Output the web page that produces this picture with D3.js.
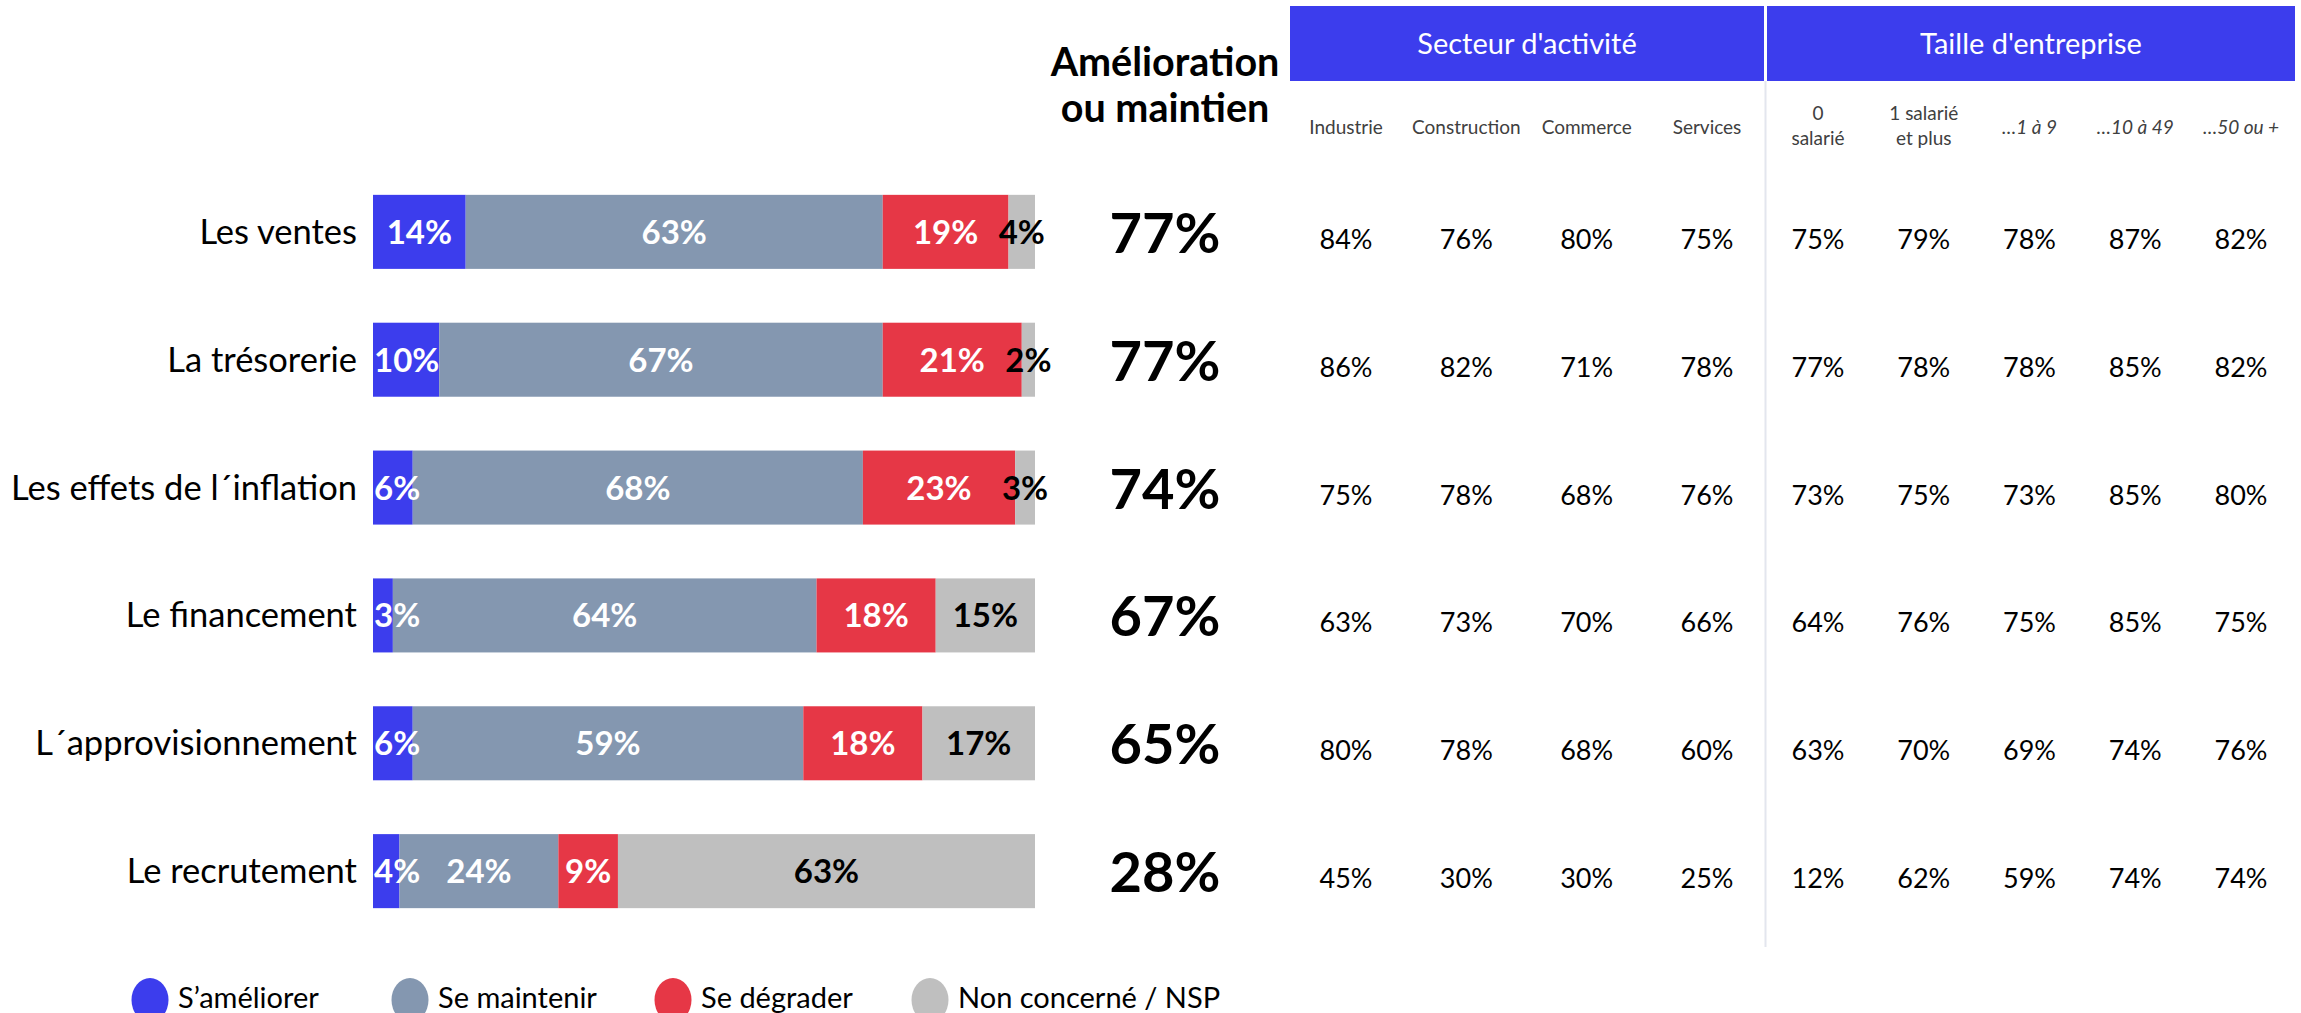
<!DOCTYPE html>
<html>
<head>
<meta charset="utf-8">
<script src="https://cdn.jsdelivr.net/npm/d3@7"></script>
<style>
  html, body { margin: 0; padding: 0; background: #ffffff; }
  svg { display: block; font-family: Lato, "Open Sans", sans-serif; }
</style>
</head>
<body>
<svg id="chart" width="2301" height="1013"></svg>
<script>
// ---- Data ----
const categories = ["Les ventes", "La trésorerie", "Les effets de l´inflation", "Le financement", "L´approvisionnement", "Le recrutement"];
const seriesNames = ["S’améliorer", "Se maintenir", "Se dégrader", "Non concerné / NSP"];
const ameliorer = [14, 10, 6, 3, 6, 4];
const maintenir = [63, 67, 68, 64, 59, 24];
const degrader  = [19, 21, 23, 18, 18, 9];
const nsp       = [4, 2, 3, 15, 17, 63];
const amelioOuMaintien = [77, 77, 74, 67, 65, 28];

const secteurLabels = ["Industrie", "Construction", "Commerce", "Services"];
const industrie    = [84, 86, 75, 63, 80, 45];
const construction = [76, 82, 78, 73, 78, 30];
const commerce     = [80, 71, 68, 70, 68, 30];
const services     = [75, 78, 76, 66, 60, 25];

const tailleLabels = [["0", "salarié"], ["1 salarié", "et plus"], ["…1 à 9"], ["…10 à 49"], ["…50 ou +"]];
const tailleItalic = [false, false, true, true, true];
const salarie0     = [75, 77, 73, 64, 63, 12];
const salarie1plus = [79, 78, 75, 76, 70, 62];
const de1a9        = [78, 78, 73, 75, 69, 59];
const de10a49      = [87, 85, 85, 85, 74, 74];
const de50plus     = [82, 82, 80, 75, 76, 74];

const groupTitles = ["Secteur d'activité", "Taille d'entreprise"];
const totalTitle = ["Amélioration", "ou maintien"];

// ---- Styles ----
const colors = ["#3c3ded", "#8497b0", "#e63746", "#bfbfbf"];
const labelColors = ["#ffffff", "#ffffff", "#ffffff", "#000000"];
const headerBlue = "#3c3ded";

const svg = d3.select("#chart");

const series = [ameliorer, maintenir, degrader, nsp];
const rows = categories.map((c, i) => {
  let acc = 0;
  const segs = series.map((s, k) => {
    const seg = { key: k, v: s[i], x0: acc, x1: acc + s[i] };
    acc += s[i];
    return seg;
  });
  return { cat: c, segs };
});

// Scales
const x = d3.scaleLinear().domain([0, 100]).range([373, 1035]);
const y = d3.scaleBand().domain(categories).range([168, 935]).paddingInner(0.421).paddingOuter(0.21);

// Bars
const rowG = svg.append("g").selectAll("g").data(rows).join("g")
  .attr("transform", d => `translate(0,${y(d.cat)})`);

rowG.selectAll("rect").data(d => d.segs).join("rect")
  .attr("x", d => x(d.x0))
  .attr("width", d => x(d.x1) - x(d.x0))
  .attr("y", 0)
  .attr("height", y.bandwidth())
  .attr("fill", d => colors[d.key]);

// Bar labels
rowG.selectAll("text.seg").data(d => d.segs).join("text")
  .attr("class", "seg")
  .attr("font-size", 33)
  .attr("font-weight", 700)
  .attr("fill", d => labelColors[d.key])
  .attr("text-anchor", "middle")
  .attr("y", y.bandwidth() / 2 + 12)
  .text(d => d.v + "%")
  .each(function (d) {
    const w = this.getComputedTextLength();
    let cx = (x(d.x0) + x(d.x1)) / 2;
    const minX = x(0) + w / 2 + 1;
    if (cx < minX) cx = minX;
    d3.select(this).attr("x", cx);
  });

// Category labels
svg.append("g").selectAll("text").data(categories).join("text")
  .attr("x", 357)
  .attr("y", d => y(d) + y.bandwidth() / 2 + 12)
  .attr("text-anchor", "end")
  .attr("font-size", 34.5)
  .attr("fill", "#000")
  .text(d => d);

// Total column
const totalX = 1165;
svg.append("g").selectAll("text").data(totalTitle).join("text")
  .attr("x", totalX)
  .attr("y", (d, i) => 76 + i * 46)
  .attr("text-anchor", "middle")
  .attr("font-size", 39.5)
  .attr("font-weight", 700)
  .attr("fill", "#000")
  .text(d => d);

svg.append("g").selectAll("text").data(amelioOuMaintien).join("text")
  .attr("x", totalX)
  .attr("y", (d, i) => y(categories[i]) + y.bandwidth() / 2 + 21)
  .attr("text-anchor", "middle")
  .attr("font-size", 56)
  .attr("font-weight", 700)
  .attr("fill", "#000")
  .text(d => d + "%");

// Group header boxes
const groups = [
  { title: groupTitles[0], x0: 1290, x1: 1764 },
  { title: groupTitles[1], x0: 1767, x1: 2295 }
];
svg.append("g").selectAll("rect").data(groups).join("rect")
  .attr("x", d => d.x0).attr("width", d => d.x1 - d.x0)
  .attr("y", 6).attr("height", 75)
  .attr("fill", headerBlue);
svg.append("g").selectAll("text").data(groups).join("text")
  .attr("x", d => (d.x0 + d.x1) / 2)
  .attr("y", 54)
  .attr("text-anchor", "middle")
  .attr("font-size", 29)
  .attr("fill", "#fff")
  .text(d => d.title);

// Separator line
svg.append("line")
  .attr("x1", 1765.5).attr("x2", 1765.5)
  .attr("y1", 81).attr("y2", 947)
  .attr("stroke", "#e3e6ee").attr("stroke-width", 2);

// Sub-columns
const xSect = d3.scalePoint().domain(secteurLabels).range([1346, 1707]);
const tailleKeys = tailleLabels.map(l => l.join(" "));
const xTaille = d3.scalePoint().domain(tailleKeys).range([1818, 2241]);

// Column headers
svg.append("g").selectAll("text").data(secteurLabels).join("text")
  .attr("x", d => xSect(d))
  .attr("y", 134)
  .attr("text-anchor", "middle")
  .attr("font-size", 19)
  .attr("fill", "#404040")
  .text(d => d);

const th = svg.append("g").selectAll("text").data(tailleLabels).join("text")
  .attr("text-anchor", "middle")
  .attr("font-size", 19)
  .attr("fill", "#404040")
  .attr("font-style", (d, i) => tailleItalic[i] ? "italic" : "normal");
th.each(function (d, i) {
  const t = d3.select(this);
  const cx = xTaille(tailleKeys[i]);
  if (d.length === 1) {
    t.append("tspan").attr("x", cx).attr("y", 134).text(d[0]);
  } else {
    d.forEach((line, j) => t.append("tspan").attr("x", cx).attr("y", 120 + j * 25).text(line));
  }
});

// Values
const sectSeries = [industrie, construction, commerce, services];
const tailleSeries = [salarie0, salarie1plus, de1a9, de10a49, de50plus];
const cells = [];
sectSeries.forEach((s, k) => s.forEach((v, i) => cells.push({ x: xSect(secteurLabels[k]), cat: categories[i], v })));
tailleSeries.forEach((s, k) => s.forEach((v, i) => cells.push({ x: xTaille(tailleKeys[k]), cat: categories[i], v })));
svg.append("g").selectAll("text").data(cells).join("text")
  .attr("x", d => d.x)
  .attr("y", d => y(d.cat) + y.bandwidth() / 2 + 17)
  .attr("text-anchor", "middle")
  .attr("font-size", 27)
  .attr("fill", "#000")
  .text(d => d.v + "%");

// Legend
const legendX = [150, 410, 673, 930];
const lg = svg.append("g").selectAll("g").data(seriesNames).join("g")
  .attr("transform", (d, i) => `translate(${legendX[i]},1000)`);
lg.append("ellipse").attr("rx", 18.5).attr("ry", 22).attr("fill", (d, i) => colors[i]);
lg.append("text")
  .attr("x", 28).attr("y", 8)
  .attr("font-size", 29)
  .attr("fill", "#000")
  .text(d => d);
</script>
</body>
</html>
